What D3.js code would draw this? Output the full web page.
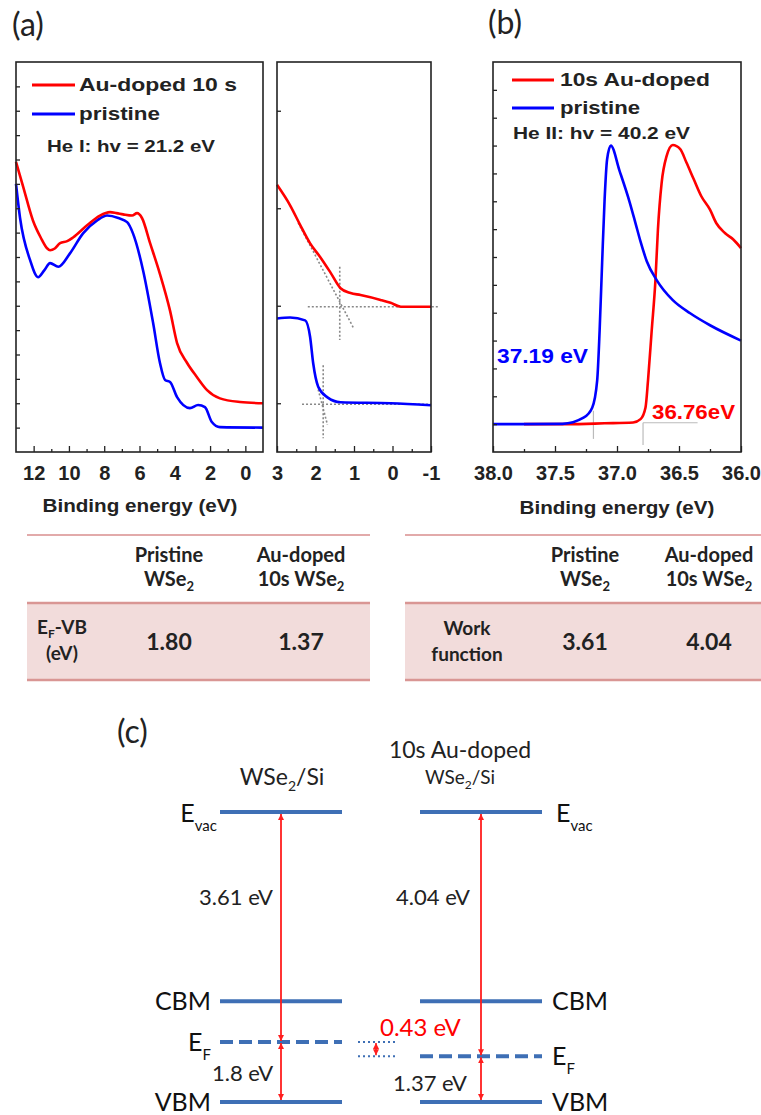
<!DOCTYPE html>
<html lang="en">
<head>
<meta charset="utf-8">
<title>UPS spectra of pristine and Au-doped WSe2</title>
<script src="https://d3js.org/d3.v7.min.js"></script>
<style>
  body { margin: 0; background: #fff; }
  svg { display: block; }
</style>
</head>
<body>
<svg width="761" height="1115"></svg>
<script>
// ---------- data ----------
// (a) wide valence band window: binding energy (eV) / intensity (a.u.)
const wideAuE = [13, 12.6, 12.04, 11.6, 11.24, 11.07, 10.8, 10.5, 10.1, 9.77, 8.97, 8.24, 7.67, 7.3, 6.93, 6.42, 6.14, 5.86, 5.4, 4.84, 4.27, 3.87, 3.3, 2.74, 2.17, 1.44, 0.3, -1];
const wideAuI = [11.9, 10.9, 9.5, 8.8, 8.36, 8.28, 8.35, 8.57, 8.65, 8.8, 9.3, 9.7, 9.84, 9.8, 9.75, 9.7, 9.8, 9.6, 8.57, 7.3, 5.8, 4.47, 3.65, 3.07, 2.54, 2.2, 2.05, 2.0];
const widePrE = [13, 12.77, 12.2, 11.75, 11.4, 11.07, 10.6, 9.94, 9.2, 8.4, 7.84, 7.2, 6.7, 6.37, 5.8, 5.23, 4.84, 4.55, 4.27, 3.87, 3.14, 2.68, 2.29, 1.9, 1.44, -1];
const widePrI = [11.0, 9.6, 7.87, 7.17, 7.45, 7.75, 7.6, 8.15, 8.97, 9.5, 9.7, 9.6, 9.43, 8.97, 7.46, 5.3, 3.65, 2.95, 2.87, 2.25, 1.8, 1.93, 1.84, 1.23, 1.02, 1.0];
// (a) close-up of the valence band edge
const edgeAuE = [3, 2.66, 2.4, 2.14, 1.88, 1.61, 1.35, 1.09, 0.83, 0.31, 0.05, -0.22, -1];
const edgeAuI = [3.24, 3.03, 2.83, 2.64, 2.5, 2.34, 2.18, 2.13, 2.11, 2.06, 2.03, 1.99, 1.99];
const edgePrE = [3, 2.66, 2.27, 2.14, 2.06, 1.93, 1.69, 1.35, 0.05, -1];
const edgePrI = [1.87, 1.88, 1.85, 1.68, 1.41, 1.17, 1.06, 1.01, 1.0, 0.98];
// (b) secondary electron cut-off
const secoPrE = [38.0, 37.44, 37.27, 37.2, 37.16, 37.14, 37.12, 37.1, 37.08, 37.05, 36.98, 36.9, 36.85, 36.81, 36.76, 36.68, 36.55, 36.41, 36.25, 36.0];
const secoPrI = [1.0, 1.01, 1.23, 1.59, 2.56, 4.37, 6.79, 9.06, 10.5, 11.0, 10.1, 9.0, 8.2, 7.55, 6.85, 6.17, 5.45, 4.98, 4.55, 4.0];
const secoAuE = [37.75, 37.4, 37.1, 36.87, 36.81, 36.77, 36.75, 36.72, 36.69, 36.67, 36.64, 36.6, 36.55, 36.49, 36.44, 36.38, 36.32, 36.25, 36.2, 36.13, 36.06, 36.0];
const secoAuI = [1.0, 1.0, 1.03, 1.06, 1.18, 1.6, 2.56, 4.37, 6.17, 7.98, 9.66, 10.62, 11.02, 10.87, 10.39, 9.78, 9.18, 8.7, 8.22, 7.86, 7.62, 7.32];

// table / band diagram values
const samples = ["Pristine", "Au-doped"];
const efVb = [1.80, 1.37];          // E_F - VBM (eV)
const workFn = [3.61, 4.04];        // work function (eV)
const cbmAboveVbm = 2.44;           // schematic CBM position

// tick labels
const ticksA1 = [12, 10, 8, 6, 4, 2, 0], minorA1 = [11, 9, 7, 5, 3, 1];
const ticksA2 = [3, 2, 1, 0, -1], minorA2 = [2.5, 1.5, 0.5, -0.5];
const ticksB = [38, 37.5, 37, 36.5, 36], minorB = [37.75, 37.25, 36.75, 36.25];

// ---------- set up ----------
const svg = d3.select("svg");
const RED = "#ff0000", BLUE = "#0000ff", INK = "#222";
const ARIAL = "'Liberation Sans', Arial, sans-serif";
const CAL = "Lato, 'Open Sans', sans-serif";

const xA1 = d3.scaleLinear().domain([13, -1]).range([16, 263]);
const yA1 = d3.scaleLinear().domain([0, 16]).range([452, 62]);
const xA2 = d3.scaleLinear().domain([3, -1]).range([277, 431]);
const yA2 = d3.scaleLinear().domain([0.5, 4.5]).range([452, 62]);
const xB = d3.scaleLinear().domain([38, 36]).range([493, 741]);
const yB = d3.scaleLinear().domain([0, 14]).range([452, 62]);

function drawCurve(xs, ys, E, I, color) {
  const line = d3.line()
    .x((d, i) => xs(E[i]))
    .y((d, i) => ys(I[i]))
    .curve(d3.curveMonotoneX);
  svg.append("path").datum(E)
    .attr("d", line)
    .attr("fill", "none")
    .attr("stroke", color)
    .attr("stroke-width", 2.6)
    .attr("stroke-linejoin", "round");
}

function guide(xs, ys, pts, color, dash, w) {
  svg.append("path").datum(pts)
    .attr("d", d3.line().x(d => xs(d[0])).y(d => ys(d[1])))
    .attr("fill", "none").attr("stroke", color)
    .attr("stroke-width", w).attr("stroke-dasharray", dash);
}

function frame(xs, ys, leftTicks, major, minor, fmt) {
  const [x0, x1] = xs.range();
  const [y0, y1] = ys.range();
  svg.append("g").attr("transform", `translate(${x0},0)`)
    .call(d3.axisLeft(ys).tickValues(leftTicks).tickSize(-4).tickFormat(""))
    .call(g => g.select(".domain").remove())
    .call(g => g.selectAll("line").attr("stroke", INK).attr("stroke-width", 1.3));
  svg.append("g").attr("transform", `translate(0,${y0})`)
    .call(d3.axisBottom(xs).tickValues(minor).tickSize(-3).tickFormat(""))
    .call(g => g.select(".domain").remove())
    .call(g => g.selectAll("line").attr("stroke", INK).attr("stroke-width", 1.3));
  svg.append("g").attr("transform", `translate(0,${y0})`)
    .call(d3.axisBottom(xs).tickValues(major).tickSize(-6).tickPadding(14).tickFormat(fmt))
    .attr("font-family", ARIAL).attr("font-size", 20).attr("font-weight", "bold")
    .call(g => g.select(".domain").remove())
    .call(g => g.selectAll("line").attr("stroke", INK).attr("stroke-width", 1.3))
    .call(g => g.selectAll("text").attr("fill", INK));
  svg.append("rect")
    .attr("x", x0).attr("y", y1).attr("width", x1 - x0).attr("height", y0 - y1)
    .attr("fill", "none").attr("stroke", INK).attr("stroke-width", 1.6);
}

function txt(x, y, s, o = {}) {
  const t = svg.append("text")
    .attr("x", x).attr("y", y)
    .attr("font-family", o.family || ARIAL)
    .attr("font-size", o.size || 18)
    .attr("font-weight", o.weight || "bold")
    .attr("fill", o.fill || INK)
    .attr("text-anchor", o.anchor || "start")
    .text(s);
  if (o.len) t.attr("textLength", o.len).attr("lengthAdjust", "spacingAndGlyphs");
  return t;
}

// ---------- (a) ----------
drawCurve(xA1, yA1, widePrE, widePrI, BLUE);
drawCurve(xA1, yA1, wideAuE, wideAuI, RED);
frame(xA1, yA1, d3.range(1, 16), ticksA1, minorA1, d => String(d));

// tangent construction (gray dotted)
guide(xA2, yA2, [[2.2, 1.99], [-1.18, 1.99]], "#888", "2,2", 1.6);
guide(xA2, yA2, [[efVb[1], 2.4], [efVb[1], 1.65]], "#888", "2,2", 1.6);
guide(xA2, yA2, [[2.45, 2.85], [1.01, 1.77]], "#888", "2,2", 1.6);
guide(xA2, yA2, [[2.35, 0.99], [-1, 0.99]], "#888", "2,2", 1.6);
guide(xA2, yA2, [[efVb[0], 1.39], [efVb[0], 0.64]], "#888", "2,2", 1.6);
guide(xA2, yA2, [[1.93, 1.14], [1.69, 0.78]], "#888", "2,2", 1.6);
drawCurve(xA2, yA2, edgePrE, edgePrI, BLUE);
drawCurve(xA2, yA2, edgeAuE, edgeAuI, RED);
frame(xA2, yA2, [1, 2, 3, 4], ticksA2, minorA2, d => String(d));

// legend (a)
svg.append("line").attr("x1", 32).attr("x2", 75).attr("y1", 85).attr("y2", 85).attr("stroke", RED).attr("stroke-width", 3);
svg.append("line").attr("x1", 32).attr("x2", 75).attr("y1", 114).attr("y2", 114).attr("stroke", BLUE).attr("stroke-width", 3);
txt(79, 91, "Au-doped 10 s", { size: 18, len: 158 });
txt(79, 120, "pristine", { size: 18, len: 81 });
txt(47, 152, "He I: hv = 21.2 eV", { size: 16, len: 168 });

txt(140, 512, "Binding energy (eV)", { size: 19, anchor: "middle", len: 195 });
txt(12, 36, "(a)", { family: CAL, size: 32, weight: "normal" });

// ---------- (b) ----------
guide(xB, yB, [[37.19, 1.48], [37.19, 0.47]], "#bbb", null, 1.2);
guide(xB, yB, [[36.79, 1.05], [36.79, 0.25]], "#bbb", null, 1.2);
guide(xB, yB, [[36.79, 1.05], [36.35, 1.05]], "#bbb", null, 1.2);
drawCurve(xB, yB, secoAuE, secoAuI, RED);
drawCurve(xB, yB, secoPrE, secoPrI, BLUE);
frame(xB, yB, d3.range(1, 14), ticksB, minorB, d3.format(".1f"));

svg.append("line").attr("x1", 512).attr("x2", 554).attr("y1", 80).attr("y2", 80).attr("stroke", RED).attr("stroke-width", 3);
svg.append("line").attr("x1", 512).attr("x2", 554).attr("y1", 108).attr("y2", 108).attr("stroke", BLUE).attr("stroke-width", 3);
txt(560, 86, "10s Au-doped", { size: 18, len: 150 });
txt(560, 114, "pristine", { size: 18, len: 80 });
txt(513, 139, "He II: hv = 40.2 eV", { size: 16, len: 177 });

txt(497, 363, "37.19 eV", { size: 21, fill: BLUE, len: 91 });
txt(652, 419, "36.76eV", { size: 20, fill: RED, len: 83 });

txt(617, 514, "Binding energy (eV)", { size: 19, anchor: "middle", len: 195 });
txt(488, 34, "(b)", { family: CAL, size: 32, weight: "normal" });

// ---------- tables ----------
const PINK = "#f2dcdb", PINK_LINE = "#d99694";
function table(x0, x1, colX, rowLines, values) {
  svg.append("line").attr("x1", x0).attr("x2", x1).attr("y1", 535).attr("y2", 535)
    .attr("stroke", "#e2aaaa").attr("stroke-width", 2);
  svg.append("rect").attr("x", x0).attr("y", 603).attr("width", x1 - x0).attr("height", 77).attr("fill", PINK);
  [603, 680].forEach(y => svg.append("line").attr("x1", x0).attr("x2", x1).attr("y1", y).attr("y2", y)
    .attr("stroke", PINK_LINE).attr("stroke-width", 2.5));
  samples.forEach((s, i) => {
    const cx = colX(s);
    txt(cx, 562, s, { family: CAL, size: 20, anchor: "middle" });
    const t = txt(cx, 586, i === 0 ? "WSe" : "10s WSe", { family: CAL, size: 20, anchor: "middle" });
    t.append("tspan").attr("font-size", 13).attr("dy", 5).text("2");
    txt(cx, 650, values[i].toFixed(2), { family: CAL, size: 23, anchor: "middle" });
  });
  rowLines();
}

const colL = d3.scalePoint().domain(samples).range([169, 301]);
table(27, 370, colL, () => {
  const t = txt(62, 634, "E", { family: CAL, size: 19, anchor: "middle" });
  t.append("tspan").attr("font-size", 12).attr("dy", 4).text("F");
  t.append("tspan").attr("dy", -4).text("-VB");
  txt(62, 660, "(eV)", { family: CAL, size: 19, anchor: "middle" });
}, efVb);

const colR = d3.scalePoint().domain(samples).range([585, 709]);
table(405, 761, colR, () => {
  txt(467, 635, "Work", { family: CAL, size: 19, anchor: "middle" });
  txt(467, 661, "function", { family: CAL, size: 19, anchor: "middle" });
}, workFn);

// ---------- (c) band diagram ----------
const LEVEL = "#3e6fb5", ARROW = "#ff1f1f";
const vac = efVb[0] + workFn[0];
const yE = d3.scaleLinear().domain([0, efVb[0], vac]).range([1102, 1042, 812]);
const colC = d3.scalePoint().domain(samples).range([281, 481]);
const half = 61;

const defs = svg.append("defs");
defs.append("marker").attr("id", "ah")
  .attr("viewBox", "0 -3 6 6").attr("refX", 6).attr("refY", 0)
  .attr("markerWidth", 6).attr("markerHeight", 6)
  .attr("markerUnits", "userSpaceOnUse").attr("orient", "auto-start-reverse")
  .append("path").attr("d", "M0,-3L6,0L0,3Z").attr("fill", ARROW);

function dArrow(x, ya, yb, w) {
  svg.append("line").attr("x1", x).attr("x2", x).attr("y1", ya).attr("y2", yb)
    .attr("stroke", ARROW).attr("stroke-width", w)
    .attr("marker-start", "url(#ah)").attr("marker-end", "url(#ah)");
}

samples.forEach((s, i) => {
  const cx = colC(s);
  const levels = [
    { e: vac, dash: null },
    { e: cbmAboveVbm, dash: null },
    { e: efVb[i], dash: "13,6" },
    { e: 0, dash: null }
  ];
  levels.forEach(l => {
    svg.append("line").attr("x1", cx - half).attr("x2", cx + half)
      .attr("y1", yE(l.e)).attr("y2", yE(l.e))
      .attr("stroke", LEVEL).attr("stroke-width", 4).attr("stroke-dasharray", l.dash);
  });
  dArrow(cx, yE(vac) + 2, yE(efVb[i]) - 1, 1.8);
  dArrow(cx, yE(efVb[i]) + 1, yE(0) - 2, 1.8);
});

// energy labels
const cs = { family: CAL, size: 22, weight: "normal", fill: "#222" };
txt(273, 905, workFn[0] + " eV", { ...cs, anchor: "end" });
txt(470, 905, workFn[1] + " eV", { ...cs, anchor: "end" });
txt(212, 1081, "1.8 eV", cs);
txt(393, 1091, efVb[1] + " eV", cs);

// level names
const ls = { family: CAL, size: 25, weight: "normal", fill: "#111" };
function sub(x, y, main, s, anchor) {
  const t = txt(x, y, main, { ...ls, anchor });
  t.append("tspan").attr("font-size", 15).attr("dy", 9).text(s);
  return t;
}
sub(217, yE(vac) + 10, "E", "vac", "end");
txt(211, yE(cbmAboveVbm) + 9, "CBM", { ...ls, anchor: "end" });
sub(211, yE(efVb[0]) + 9, "E", "F", "end");
txt(211, yE(0) + 9, "VBM", { ...ls, anchor: "end" });
sub(556, yE(vac) + 10, "E", "vac", "start");
txt(552, yE(cbmAboveVbm) + 9, "CBM", { ...ls, anchor: "start" });
sub(552, yE(efVb[1]) + 9, "E", "F", "start");
txt(552, yE(0) + 9, "VBM", { ...ls, anchor: "start" });

// Fermi level shift between the two columns
efVb.forEach(e => {
  svg.append("line").attr("x1", 358).attr("x2", 398).attr("y1", yE(e)).attr("y2", yE(e))
    .attr("stroke", LEVEL).attr("stroke-width", 2).attr("stroke-dasharray", "2,3");
});
dArrow(376, yE(efVb[0]) + 1, yE(efVb[1]) - 1, 1.5);
txt(380, 1036, (efVb[0] - efVb[1]).toFixed(2) + " eV", { family: CAL, size: 24, weight: "normal", fill: RED });

// column titles
const t1 = txt(282, 785, "WSe", { family: CAL, size: 23, weight: "normal", anchor: "middle" });
t1.append("tspan").attr("font-size", 14).attr("dy", 6).text("2");
t1.append("tspan").attr("dy", -6).text("/Si");
txt(460, 758, "10s Au-doped", { family: CAL, size: 23, weight: "normal", anchor: "middle" });
const t2 = txt(460, 784, "WSe", { family: CAL, size: 19, weight: "normal", anchor: "middle" });
t2.append("tspan").attr("font-size", 12).attr("dy", 5).text("2");
t2.append("tspan").attr("dy", -5).text("/Si");

txt(117, 743, "(c)", { family: CAL, size: 32, weight: "normal" });
</script>
</body>
</html>
